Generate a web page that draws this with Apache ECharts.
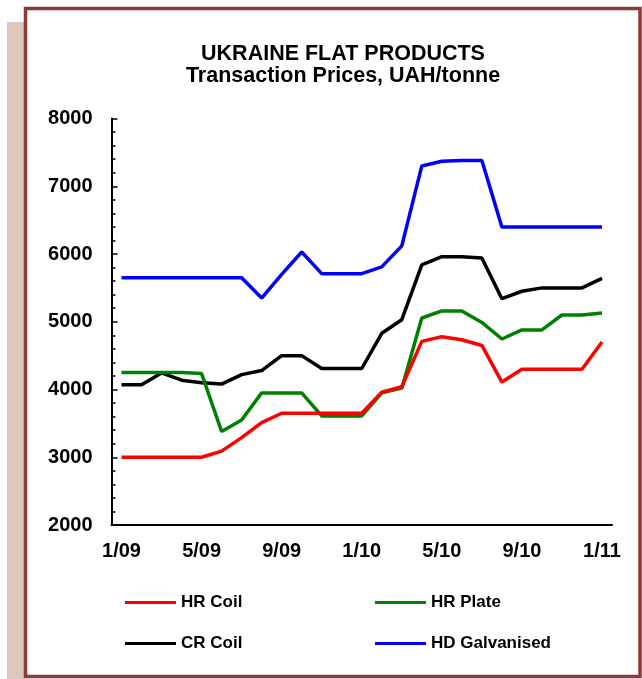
<!DOCTYPE html>
<html>
<head>
<meta charset="utf-8">
<script src="https://cdn.jsdelivr.net/npm/echarts@6/dist/echarts.min.js"></script>
<style>
  html, body { margin: 0; padding: 0; background: #fff; }
  #chart { width: 642px; height: 679px; }
</style>
</head>
<body>
<div id="chart"></div>
<script>
// months 1/09 .. 1/11
var months = ['1/09', '2/09', '3/09', '4/09', '5/09', '6/09', '7/09', '8/09', '9/09', '10/09', '11/09', '12/09',
    '1/10', '2/10', '3/10', '4/10', '5/10', '6/10', '7/10', '8/10', '9/10', '10/10', '11/10', '12/10', '1/11'];

var hrCoil = [3000, 3000, 3000, 3000, 3000, 3090, 3290, 3510, 3650, 3650, 3650, 3650, 3650,
    3960, 4040, 4710, 4780, 4735, 4650, 4110, 4300, 4300, 4300, 4300, 4700];
var hrPlate = [4250, 4250, 4250, 4250, 4235, 3380, 3550, 3950, 3950, 3950, 3610, 3610, 3610,
    3950, 4020, 5055, 5160, 5160, 4990, 4745, 4880, 4880, 5100, 5100, 5130];
var crCoil = [4070, 4070, 4245, 4137, 4100, 4080, 4220, 4280, 4500, 4500, 4310, 4310, 4310,
    4830, 5030, 5840, 5960, 5960, 5940, 5340, 5450, 5500, 5500, 5500, 5640];
var hdGalv = [5650, 5650, 5650, 5650, 5650, 5650, 5650, 5350, 5700, 6030, 5710, 5710, 5710,
    5810, 6120, 7300, 7370, 7380, 7380, 6400, 6400, 6400, 6400, 6400, 6400];

var yTicks = [2000, 3000, 4000, 5000, 6000, 7000, 8000];

var font = 'Liberation Sans, Arial, sans-serif';

function legendItem(name, left, top) {
    return {
        data: [name],
        left: left,
        top: top,
        padding: 0,
        icon: 'rect',
        itemWidth: 51,
        itemHeight: 3,
        selectedMode: false,
        textStyle: { fontFamily: font, fontWeight: 'bold', fontSize: 17, color: '#000' }
    };
}

function lineSeries(name, color, data) {
    return {
        name: name,
        type: 'line',
        data: data,
        symbol: 'none',
        xAxisIndex: 0,
        lineStyle: { color: color, width: 3.5 },
        itemStyle: { color: color },
        animation: false
    };
}

var myChart = echarts.init(document.getElementById('chart'));
var option = {
    backgroundColor: '#fff',
    animation: false,
    graphic: [
        // pale strip on the left
        { type: 'rect', shape: { x: 7, y: 22, width: 18, height: 657 }, style: { fill: '#dcc6bd' }, z: -10 },
        // frame
        { type: 'rect', shape: { x: 25.5, y: 8.5, width: 614.5, height: 668 },
          style: { fill: '#fff', stroke: '#8e3b36', lineWidth: 3.5 }, z: -9 }
    ],
    title: {
        text: 'UKRAINE FLAT PRODUCTS\nTransaction Prices, UAH/tonne',
        left: 343,
        top: 43,
        padding: 0,
        textAlign: 'center',
        textStyle: { fontFamily: font, fontWeight: 'bold', fontSize: 21.5, lineHeight: 22, color: '#000' }
    },
    legend: [
        legendItem('HR Coil', 125, 594),
        legendItem('HR Plate', 375, 594),
        legendItem('CR Coil', 125, 635),
        legendItem('HD Galvanised', 375, 635)
    ],
    grid: { left: 111.5, right: 30, top: 118.5, bottom: 154 },
    xAxis: [{
        type: 'category',
        data: months,
        boundaryGap: true,
        axisLine: { lineStyle: { color: '#000', width: 2 } },
        axisTick: {
            inside: true, length: 8, lineStyle: { color: '#000', width: 1.5 },
            interval: function (i) { return i % 4 === 0; }
        },
        axisLabel: {
            interval: 3, margin: 16, color: '#000',
            fontFamily: font, fontWeight: 'bold', fontSize: 20
        }
    }, {
        type: 'category',
        data: months,
        position: 'bottom',
        boundaryGap: true,
        axisLine: { show: false },
        axisTick: { inside: true, length: 4, interval: 0, lineStyle: { color: '#000', width: 1.5 } },
        axisLabel: { show: false }
    }],
    yAxis: {
        type: 'value',
        min: yTicks[0],
        max: yTicks[yTicks.length - 1],
        interval: 1000,
        axisLine: { show: true, lineStyle: { color: '#000', width: 2 } },
        axisTick: { show: true, inside: true, length: 6, lineStyle: { color: '#000', width: 1.5 } },
        minorTick: { show: true, splitNumber: 5, length: 4, lineStyle: { color: '#000', width: 1.5 } },
        splitLine: { show: false },
        axisLabel: {
            margin: 19, color: '#000', fontFamily: font, fontWeight: 'bold', fontSize: 20,
            formatter: function (v) { return String(v); }
        }
    },
    series: [
        lineSeries('HD Galvanised', '#0000ff', hdGalv),
        lineSeries('CR Coil', '#000000', crCoil),
        lineSeries('HR Plate', '#008000', hrPlate),
        lineSeries('HR Coil', '#ff0000', hrCoil)
    ]
};
myChart.setOption(option);
</script>
</body>
</html>
